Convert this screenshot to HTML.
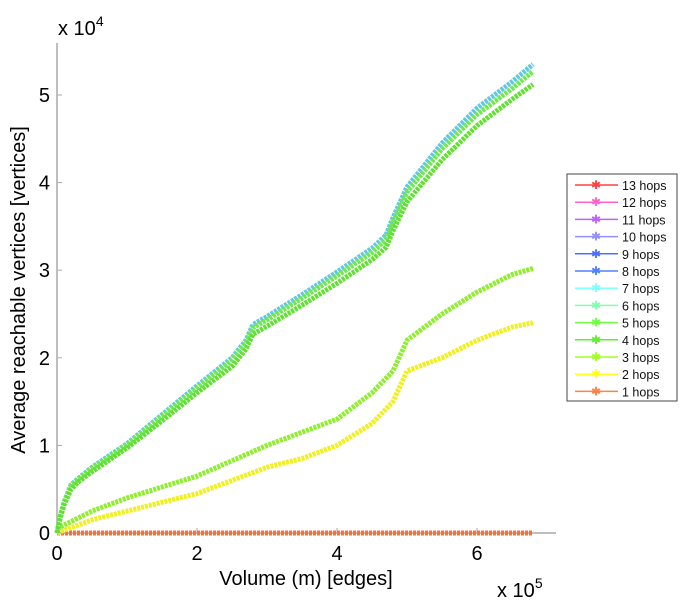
<!DOCTYPE html>
<html><head><meta charset="utf-8"><style>
html,body{margin:0;padding:0;background:#fff;}
svg{display:block;font-family:"Liberation Sans",sans-serif;}
</style></head><body>
<svg id="chart" width="682" height="600">
<g id="axes"></g>
<g id="series"></g>
<g id="legend"></g>
</svg>
<script>
const xTicks=[0,2,4,6];
const yTicks=[0,1,2,3,4,5];
const xsTop=[0,0.05,0.1,0.2,0.3,0.5,1,1.5,2,2.5,2.7,2.8,3,3.5,4,4.5,4.7,4.8,5,5.5,6,6.5,6.8];
const ysTop=[0,0.2,0.35,0.55,0.62,0.75,1.02,1.35,1.68,2.0,2.2,2.38,2.47,2.72,2.98,3.25,3.4,3.6,3.95,4.45,4.85,5.15,5.35];
const ysTopLow=[0,0.18,0.32,0.5,0.58,0.7,0.97,1.28,1.6,1.9,2.1,2.27,2.36,2.6,2.85,3.12,3.26,3.45,3.78,4.26,4.65,4.95,5.12];
const xs3=[0,0.5,1,2,3,3.5,4,4.5,4.8,5,5.5,6,6.5,6.8];
const ys3=[0.05,0.25,0.4,0.65,1.0,1.15,1.3,1.6,1.85,2.2,2.5,2.75,2.95,3.02];
const ys2=[0,0.15,0.25,0.45,0.75,0.85,1.0,1.25,1.5,1.85,2.0,2.2,2.35,2.4];
const xs1=[0,6.8];
const ys1=[0,0];
const legendLabels=["13 hops","12 hops","11 hops","10 hops","9 hops","8 hops","7 hops","6 hops","5 hops","4 hops","3 hops","2 hops","1 hops"];
const legendColors=["#ff4040","#ff60d0","#c060ff","#9090ff","#5070ff","#5080ff","#80ffff","#80ffb0","#70ff40","#60f030","#a0ff20","#ffff20","#ff8040"];
const NS="http://www.w3.org/2000/svg";
const X=v=>57+v*70, Y=v=>533-v*87.6;
function mk(p,t,a){const e=document.createElementNS(NS,t);for(const k in a)e.setAttribute(k,a[k]);p.appendChild(e);return e;}
const ax=document.getElementById('axes');
const xl=mk(ax,'line',{x1:57,y1:533,x2:556,y2:533,stroke:'#aaa','stroke-width':1.5});


const yl=mk(ax,'line',{x1:57,y1:533,x2:57,y2:43,stroke:'#aaa','stroke-width':1.5});


xTicks.forEach(t=>{mk(ax,'line',{x1:X(t),y1:533,x2:X(t),y2:528,stroke:'#aaa'});
const e=mk(ax,'text',{x:X(t),y:560,'font-size':20,'text-anchor':'middle'});e.textContent=t;

});
yTicks.forEach(t=>{mk(ax,'line',{x1:57,y1:Y(t),x2:62,y2:Y(t),stroke:'#aaa'});
const e=mk(ax,'text',{x:50,y:Y(t)+7,'font-size':20,'text-anchor':'end'});e.textContent=t;

});
let e=mk(ax,'text',{x:306,y:585,'font-size':20,'text-anchor':'middle'});e.textContent='Volume (m) [edges]';


e=mk(ax,'text',{x:0,y:0,'font-size':20,'text-anchor':'middle',transform:'translate(25,290) rotate(-90)'});e.textContent='Average reachable vertices [vertices]';


e=mk(ax,'text',{x:58,y:35,'font-size':20});e.innerHTML='x 10<tspan dy="-9" font-size="14">4</tspan>';


e=mk(ax,'text',{x:497,y:597,'font-size':20});e.innerHTML='x 10<tspan dy="-9" font-size="14">5</tspan>';


const sg=document.getElementById('series');
function line(xs,ys,c,name){const p=mk(sg,'polyline',{points:xs.map((x,i)=>X(x)+','+Y(ys[i])).join(' '),fill:'none',stroke:c,'stroke-width':5,'stroke-linejoin':'round','stroke-dasharray':'3 1'});

}
line(xs1,ys1,'#ff7030','series-1-hops');
line(xs3,ys2,'#f0f020','series-2-hops');
line(xs3,ys3,'#90ee30','series-3-hops');
line(xsTop,ysTop,'#60c8e0','series-upper-hops');
line(xsTop,ysTop.map(v=>v*0.985),'#70e850','series-mid-hops');
line(xsTop,ysTopLow,'#60e030','series-4-hops');
const lg=document.getElementById('legend');
const box=mk(lg,'rect',{x:567,y:174,width:110,height:227,fill:'#fff',stroke:'#444'});


legendLabels.forEach((l,i)=>{const y=185+i*17.2;
const g=mk(lg,'g',{});


mk(g,'line',{x1:575,y1:y,x2:618,y2:y,stroke:legendColors[i],'stroke-width':1.5});
const t=mk(g,'text',{x:596,y:y+4,'font-size':12,'text-anchor':'middle',fill:legendColors[i]});t.textContent='✱';
const tx=mk(g,'text',{x:622,y:y+5,'font-size':12.5,fill:'#111'});tx.textContent=l;});
</script>
</body></html>
